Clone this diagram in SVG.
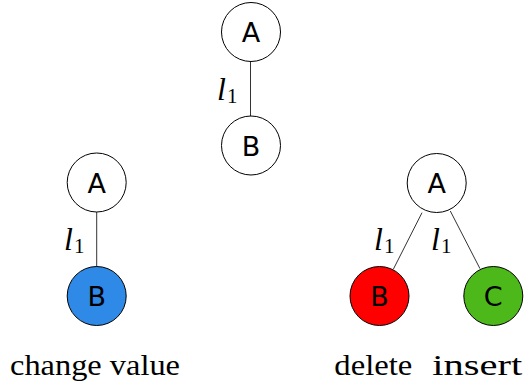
<svg xmlns="http://www.w3.org/2000/svg" width="531" height="388" viewBox="0 0 531 388">
  <style>
    .node { stroke: #000; stroke-width: 1; }
    .lbl { font-family: "DejaVu Sans", sans-serif; font-size: 27px; text-anchor: middle; fill: #000; }
    .edge { stroke: #333; stroke-width: 1; fill: none; }
    .el { font-family: "Liberation Serif", "DejaVu Serif", serif; font-style: italic; font-size: 32px; fill: #000; }
    .sub { font-family: "Liberation Serif", "DejaVu Serif", serif; font-size: 21px; fill: #000; }
    .cap { font-family: "Liberation Serif", "DejaVu Serif", serif; font-size: 29px; fill: #000; }
  </style>
  <rect width="531" height="388" fill="#fff"/>

  <!-- edges with their l1 labels -->
  <g id="connectors">
    <line class="edge" x1="250.5" y1="61.5" x2="250.5" y2="116"/>
    <line class="edge" x1="96.7" y1="212" x2="96.7" y2="267"/>
    <line class="edge" x1="422" y1="212.7" x2="393.3" y2="269.3"/>
    <line class="edge" x1="450.3" y1="211" x2="480" y2="268.7"/>
    <text class="el" x="217" y="100">l</text><text class="sub" x="227" y="103">1</text>
    <text class="el" x="64" y="250">l</text><text class="sub" x="74" y="253">1</text>
    <text class="el" x="374" y="250">l</text><text class="sub" x="384" y="253">1</text>
    <text class="el" x="431" y="250">l</text><text class="sub" x="441" y="253">1</text>
  </g>

  <!-- original tree -->
  <g id="top-A">
    <circle class="node" cx="251" cy="32" r="29.5" fill="#fff"/>
    <text class="lbl" x="251" y="42">A</text>
  </g>
  <g id="top-B">
    <circle class="node" cx="251" cy="145.5" r="29.5" fill="#fff"/>
    <text class="lbl" x="251" y="155.5">B</text>
  </g>

  <!-- change value -->
  <g id="left-A">
    <circle class="node" cx="96.7" cy="182.5" r="29.5" fill="#fff"/>
    <text class="lbl" x="96.7" y="192.5">A</text>
  </g>
  <g id="left-B">
    <circle class="node" cx="96.7" cy="296" r="29.5" fill="#2e8ae6"/>
    <text class="lbl" x="96.7" y="306">B</text>
  </g>

  <!-- delete / insert -->
  <g id="right-A">
    <circle class="node" cx="436.7" cy="183" r="29.5" fill="#fff"/>
    <text class="lbl" x="436.7" y="193">A</text>
  </g>
  <g id="right-B">
    <circle class="node" cx="379.5" cy="296" r="29.5" fill="#ff0000"/>
    <text class="lbl" x="379.5" y="306">B</text>
  </g>
  <g id="right-C">
    <circle class="node" cx="493.3" cy="296" r="29.5" fill="#4db81a"/>
    <text class="lbl" x="493.3" y="306">C</text>
  </g>

  <g id="captions">
    <text class="cap" x="10" y="375" textLength="170" lengthAdjust="spacingAndGlyphs">change value</text>
    <text class="cap" x="334.3" y="375" textLength="78" lengthAdjust="spacingAndGlyphs">delete</text>
    <text class="cap" x="432.3" y="375" textLength="90" lengthAdjust="spacingAndGlyphs">insert</text>
  </g>
</svg>
